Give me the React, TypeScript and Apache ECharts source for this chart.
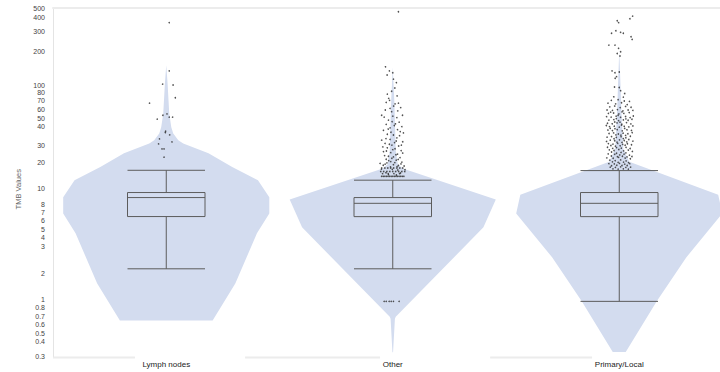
import { useEffect, useRef } from 'react';
import * as echarts from 'echarts';

const CATEGORIES = ['Lymph nodes', 'Other', 'Primary/Local'];
const Y_MIN = 0.3;
const Y_MAX = 500;
const TICK_VALUES = [
  0.3, 0.4, 0.5, 0.6, 0.7, 0.8, 1, 2, 3, 4, 5, 6, 7, 8, 10, 20, 30, 40, 50, 60, 70, 80, 100, 200,
  300, 400, 500,
];

// Box statistics: [lower whisker, Q1, median, Q3, upper whisker]
const BOX_LYMPH = [1.94, 5.9, 8.84, 9.84, 15.8];
const BOX_OTHER = [1.94, 5.89, 7.82, 8.84, 12.8];
const BOX_PRIMARY = [0.97, 5.89, 7.82, 9.84, 15.7];

// Violin outlines: [TMB value, relative density 0-100]
const VIOLIN_LYMPH = [
  [0.645, 45], [1.42, 67], [4.13, 88], [6.3, 100], [8.9, 100], [12.8, 89], [16.9, 64],
  [22.7, 41], [27.9, 16.5], [30, 11.7], [34.6, 6.8], [39.5, 4.9], [53, 2.9], [70, 2.2],
  [100, 1.3], [148, 0],
];
const VIOLIN_OTHER = [
  [0.329, 0.3], [0.486, 1.3], [0.67, 2.1], [0.7, 2.9], [4.69, 88], [8.47, 100], [16.4, 9.7],
  [18, 4.9], [24, 2.9], [70, 1.5], [142, 0],
];
const VIOLIN_PRIMARY = [
  [0.33, 6.3], [0.97, 36.4], [2.47, 65], [6.3, 100], [9.4, 96], [18.9, 9.7], [25, 3.9],
  [60, 1.9], [110, 1], [200, 0],
];

// Outlier points: [horizontal jitter in % of the category band, TMB value]
const POINTS_LYMPH = [
  [1.3, 366], [1.3, 131], [-1.6, 99], [3.0, 97], [4.0, 74], [-7.4, 66], [-4.0, 47], [-1.5, 51],
  [0.3, 52.5], [1.3, 49], [2.8, 49], [-0.3, 36.3], [-0.4, 35.3], [1.5, 33.6], [-3.0, 30.8],
  [2.5, 28.9], [-3.4, 27.7], [-1.9, 24.9], [-1.0, 24.9], [-1.0, 20.9],
];
const POINTS_OTHER = [
  [2.5, 462],
  [-3.2, 143], [-1.5, 131], [0, 126], [-2.5, 120], [0.3, 110], [1.6, 102], [0.9, 91], [-0.5, 85],
  [-2.4, 80], [1.9, 77], [-1.8, 73], [-1.4, 70], [-2.9, 67], [2.5, 66], [1.0, 65], [0.4, 62],
  [3.5, 60], [-1.2, 59], [-3.3, 57], [2.2, 56], [-0.5, 55], [-4.9, 51], [-3.8, 49], [0, 50],
  [1.8, 48.5], [4.3, 51], [-1.9, 46], [-0.3, 44.5], [2.8, 44], [1.2, 42.5], [-2.9, 42],
  [0.7, 41], [4.0, 40], [-1.2, 39], [-2.0, 38], [2.1, 37.5], [-4.1, 37], [3.3, 36], [-0.8, 35.5],
  [4.7, 35], [-2.4, 34], [0.3, 33.5], [3.0, 33], [1.8, 31.5], [-3.0, 31], [-4.9, 30],
  [-1.2, 30.5], [1.5, 29.5], [4.4, 29], [0.8, 28.5], [-3.4, 28], [-1.5, 27.5], [-0.4, 27],
  [3.8, 27], [2.6, 26.5], [-4.4, 26], [-2.4, 25.5], [1.0, 25], [0, 24.5], [3.7, 24],
  [-2.8, 23.8], [-4.1, 23.5], [-0.9, 23], [4.4, 22.8], [2.1, 22.3], [1.4, 22], [-3.6, 21.6],
  [-1.9, 21.3], [0.3, 21], [3.2, 20.7], [-0.4, 20.4], [-2.9, 20], [2.4, 19.9], [1.5, 19.6],
  [-1.8, 19.4], [-0.9, 19], [4.0, 18.8], [0.9, 18.6], [-2.6, 18.5], [-5.6, 18.3], [3.6, 18.1],
  [-3.4, 18], [0.3, 17.8], [-4.2, 17.6], [2.5, 17.5], [5.0, 17.3], [1.9, 17.1], [-1.0, 17.0],
  [-4.9, 16.6], [-3.5, 16.6], [-2.2, 16.6], [-0.9, 16.6], [0.4, 16.6], [1.8, 16.6], [3.1, 16.6],
  [4.4, 16.6], [-5.0, 16.2], [-0.2, 16.1], [5.4, 16.0], [2.2, 15.9],
  [-5.3, 15.4], [-4.0, 15.4], [-2.6, 15.4], [-1.3, 15.4], [0, 15.4], [1.3, 15.4], [2.6, 15.4],
  [4.0, 15.4], [5.3, 15.4], [-3.0, 15.0], [3.4, 14.9],
  [-4.5, 14.7], [-2.0, 14.7], [0.5, 14.7], [3.0, 14.7], [-1.9, 14.4], [1.6, 14.3],
  [-4.9, 13.9], [-4.2, 13.9], [-3.5, 13.9], [-2.8, 13.9], [-2.1, 13.9], [-1.4, 13.9], [-0.7, 13.9],
  [0, 13.9], [0.7, 13.9], [1.4, 13.9], [2.1, 13.9], [2.8, 13.9], [3.5, 13.9], [4.2, 13.9], [4.9, 13.9],
  [-3.8, 0.97], [-2.9, 0.97], [-1.6, 0.97], [-0.7, 0.97], [0.3, 0.97], [2.8, 0.97],
];
const POINTS_PRIMARY = [
  [5.9, 421], [4.7, 398], [-0.9, 381], [-0.3, 366], [-1.5, 308], [0.6, 298], [-3.4, 292], [1.8, 292],
  [5.2, 271], [5.7, 256], [-4.6, 227], [-1.9, 227], [-0.3, 212], [0.6, 197], [-0.9, 190], [0.3, 180],
  [-3.2, 131], [0, 128], [-1.9, 126], [-1.2, 116], [-1.8, 112], [-2.1, 93], [0, 92], [0.6, 86],
  [2.4, 81], [-2.4, 75.5], [1.8, 75],
  [-3.5, 70], [-0.5, 71], [2.2, 69], [4.5, 68.5],
  [-5.0, 66], [-1.6, 65], [1.0, 66.5], [3.5, 64],
  [-4.2, 61], [-2.0, 62], [0.4, 60], [2.8, 61.5], [5.2, 60.5],
  [-5.4, 57], [-3.0, 56.5], [-0.8, 57.5], [1.6, 56], [3.9, 57], [6.0, 56.5],
  [-4.8, 53], [-2.5, 53.5], [-0.2, 52.5], [2.0, 53], [4.4, 54], [-3.8, 54.5], [1.2, 54.8],
  [-5.6, 49.5], [-3.6, 49], [-1.4, 50], [0.6, 48.8], [2.8, 49.6], [4.8, 48.5], [6.2, 50.2], [-0.5, 51],
  [-4.6, 46], [-2.4, 46.5], [-0.3, 45.5], [1.8, 46.2], [3.9, 45.8], [5.6, 46.8], [-1.3, 47.5], [2.9, 47.2],
  [-5.2, 43], [-3.1, 42.5], [-1.0, 43.3], [1.1, 42.2], [3.2, 43.6], [5.1, 42.4], [-2.0, 44.2], [0.3, 44],
  [-4.3, 40], [-2.2, 40.4], [0, 39.6], [2.2, 40.3], [4.2, 39.8], [6.0, 40.6], [-5.7, 41], [1.0, 41.3],
  [-5.0, 37.2], [-3.0, 36.8], [-0.9, 37.5], [1.3, 36.6], [3.4, 37.4], [5.4, 36.9], [-1.9, 38.3], [2.4, 38.5], [-4.0, 38.6],
  [-4.5, 34.6], [-2.5, 35], [-0.4, 34.2], [1.7, 34.8], [3.8, 34.4], [5.7, 35.2], [-1.5, 33.6], [0.7, 33.4], [2.8, 33.2],
  [-5.4, 32], [-3.4, 32.4], [-1.3, 31.8], [0.8, 32.3], [2.9, 31.6], [4.9, 32.6], [-2.3, 30.9], [1.8, 31],
  [-4.0, 30], [-2.0, 29.6], [0.1, 30.2], [2.2, 29.8], [4.2, 30.4], [6.0, 29.4], [-5.6, 29.2], [-1.0, 28.8], [1.2, 28.6], [3.3, 28.9],
  [-4.8, 27.9], [-2.8, 27.6], [-0.7, 28], [1.5, 27.4], [3.6, 27.8], [5.4, 27.2], [-3.7, 26.8], [0.4, 26.6], [2.6, 26.9], [-1.7, 26.4],
  [-5.2, 25.8], [-1.2, 25.6], [0.9, 25.3], [3.0, 25.7], [4.8, 25.1], [-2.9, 25.2],
  [-4.4, 24.4], [-2.3, 24.1], [-0.2, 24.6], [1.9, 23.9], [4.0, 24.3], [5.8, 23.6], [-3.4, 23.3], [0.8, 23.1], [2.9, 22.9], [-1.2, 22.7],
  [-4.9, 22.4], [-2.0, 22.2], [0.2, 21.9], [2.1, 22.3], [4.5, 21.8], [-3.5, 21.4], [-0.8, 21.1], [1.4, 21.3], [3.4, 21.0], [5.6, 21.2],
  [-5.5, 20.6], [-2.7, 20.4], [-0.3, 20.8], [2.6, 20.5], [4.9, 20.2],
  [-4.2, 19.6], [-1.8, 19.4], [0.6, 19.7], [3.0, 19.3], [-3.0, 18.9], [-0.5, 18.7], [1.9, 18.8], [4.1, 18.6],
  [-4.6, 18.2], [-2.2, 18.1], [0.1, 18.3], [2.4, 18.0], [4.6, 18.2], [-1.1, 17.6], [1.2, 17.5], [3.5, 17.5], [-3.4, 17.4],
  [-4.0, 16.9], [-1.7, 16.8], [0.6, 17.0], [2.9, 16.8], [5.0, 16.9], [-2.8, 16.3], [-0.5, 16.2], [1.8, 16.3], [4.0, 16.2],
];

const BOXES = [BOX_LYMPH, BOX_OTHER, BOX_PRIMARY];
const VIOLINS = [VIOLIN_LYMPH, VIOLIN_OTHER, VIOLIN_PRIMARY];
const POINTS = [POINTS_LYMPH, POINTS_OTHER, POINTS_PRIMARY];

// Styling
const VIOLIN_COLOR = '#d3dcef';
const LINE_COLOR = '#5c5c5c';
const FRAME_COLOR = '#ececec';
const VIOLIN_HALF_WIDTH = 0.455; // of the band, at density 100
const BOX_WIDTH = 77.5;
const FONT = '"Liberation Sans", Arial, sans-serif';
const TICK_FONT_SIZE = 7;
// Axis baseline pieces, in category-index units
const BASELINE_PIECES = [
  [-0.5, -0.138],
  [0.348, 0.944],
  [1.43, 1.88],
];
// Small vertical offsets (px) that keep crowded tick labels evenly spaced
const LABEL_SHIFT: Record<string, number> = {
  '400': -1, '100': 1.5, '80': -2, '70': 0.5, '60': 2, '50': 2, '30': 5, '20': 3.5, '10': -3.5,
  '8': 2, '7': 4, '6': 5, '5': 5, '4': 3, '3': -1.5, '2': 6, '0.8': -3, '0.7': -0.5, '0.6': 0.5,
  '0.5': 0.5, '0.4': -1.5,
};

const lg = (v: number) => Math.log10(v);
const tickText = (t: number) => (t < 1 ? t.toFixed(1) : String(t));

export default function App() {
  const ref = useRef<HTMLDivElement>(null);

  useEffect(() => {
    if (!ref.current) return;
    const chart = echarts.init(ref.current, undefined, { renderer: 'svg' });

    const shifts = Array.from(new Set(Object.values(LABEL_SHIFT)));
    const tickStyle = { fontSize: TICK_FONT_SIZE, lineHeight: 8, color: '#444', fontFamily: FONT };
    const labelRich: Record<string, any> = { k0: { ...tickStyle } };
    shifts.forEach((s, i) => {
      labelRich['k' + (i + 1)] = {
        ...tickStyle,
        padding: s > 0 ? [2 * s, 0, 0, 0] : [0, 0, -2 * s, 0],
      };
    });

    const yFormatter = (v: number) => {
      let best = TICK_VALUES[0];
      TICK_VALUES.forEach((t) => {
        if (Math.abs(lg(t) - v) < Math.abs(lg(best) - v)) best = t;
      });
      const txt = tickText(best);
      const s = LABEL_SHIFT[txt];
      const key = s === undefined ? 'k0' : 'k' + (shifts.indexOf(s) + 1);
      return `{${key}|${txt}}`;
    };

    const scatterData: number[][] = [];
    POINTS.forEach((pts, i) => {
      pts.forEach(([j, v]) => scatterData.push([i + j / 100, lg(v)]));
    });

    chart.setOption({
      animation: false,
      textStyle: { fontFamily: FONT },
      grid: {
        left: 53,
        top: 8,
        width: 679.5,
        height: 348.5,
        containLabel: false,
        outerBoundsMode: 'none',
      },
      xAxis: [
        {
          type: 'category',
          data: CATEGORIES,
          boundaryGap: true,
          axisLine: { show: false, onZero: false },
          axisTick: { show: false },
          splitLine: { show: false },
          axisLabel: { fontSize: 8, color: '#222', margin: 4, fontFamily: FONT },
        },
        {
          type: 'value',
          position: 'top',
          min: -0.5,
          max: 2.5,
          axisLine: { show: true, onZero: false, lineStyle: { color: FRAME_COLOR, width: 2 } },
          axisTick: { show: false },
          axisLabel: { show: false },
          splitLine: { show: false },
        },
      ],
      yAxis: {
        type: 'value',
        min: lg(Y_MIN),
        max: lg(Y_MAX),
        name: 'TMB Values',
        nameLocation: 'middle',
        nameGap: 31,
        nameTextStyle: {
          fontSize: 7.5,
          color: '#666',
          fontFamily: FONT,
          padding: [0, 14, 0, 0],
        },
        axisLine: { show: true, onZero: false, lineStyle: { color: '#e4e4e4', width: 1 } },
        axisTick: { show: false },
        splitLine: { show: false },
        axisLabel: {
          customValues: TICK_VALUES.map(lg),
          formatter: yFormatter,
          rich: labelRich,
          fontSize: TICK_FONT_SIZE,
          color: '#444',
          margin: 8,
          hideOverlap: false,
        },
      },
      series: [
        {
          type: 'custom',
          name: 'violin',
          xAxisIndex: 0,
          z: 1,
          data: CATEGORIES.map((_, i) => [i, 0]),
          encode: { x: 0, y: 1 },
          renderItem: (_params: any, api: any) => {
            const idx = api.value(0) as number;
            const outline = VIOLINS[idx];
            const band = api.size([1, 0])[0];
            const maxHalf = band * VIOLIN_HALF_WIDTH;
            const right = outline.map(([v, d]) => {
              const p = api.coord([idx, lg(v)]);
              return [p[0] + (d / 100) * maxHalf, p[1]];
            });
            const left = outline
              .slice()
              .reverse()
              .map(([v, d]) => {
                const p = api.coord([idx, lg(v)]);
                return [p[0] - (d / 100) * maxHalf, p[1]];
              });
            return {
              type: 'polygon',
              shape: { points: right.concat(left) },
              style: { fill: VIOLIN_COLOR, stroke: 'none' },
            };
          },
        },
        {
          type: 'boxplot',
          name: 'box',
          xAxisIndex: 0,
          z: 2,
          boxWidth: [BOX_WIDTH, BOX_WIDTH],
          data: BOXES.map((b) => b.map(lg)),
          itemStyle: { color: 'rgba(0,0,0,0)', borderColor: LINE_COLOR, borderWidth: 1 },
          emphasis: { disabled: true },
        },
        {
          type: 'scatter',
          name: 'points',
          xAxisIndex: 1,
          z: 3,
          symbol: 'circle',
          symbolSize: 1.6,
          data: scatterData,
          itemStyle: { color: '#333333', opacity: 0.85 },
          emphasis: { disabled: true },
        },
        {
          type: 'custom',
          name: 'baseline',
          xAxisIndex: 1,
          z: 0,
          clip: false,
          data: BASELINE_PIECES,
          renderItem: (_params: any, api: any) => {
            const a = api.coord([api.value(0), lg(Y_MIN)]);
            const b = api.coord([api.value(1), lg(Y_MIN)]);
            return {
              type: 'line',
              shape: { x1: a[0], y1: a[1] + 1, x2: b[0], y2: b[1] + 1 },
              style: { stroke: FRAME_COLOR, lineWidth: 2 },
            };
          },
        },
      ],
    });

    return () => chart.dispose();
  }, []);

  return (
    <div
      ref={ref}
      style={{ position: 'fixed', left: 0, top: 0, width: 720, height: 372, background: '#fff' }}
    />
  );
}
